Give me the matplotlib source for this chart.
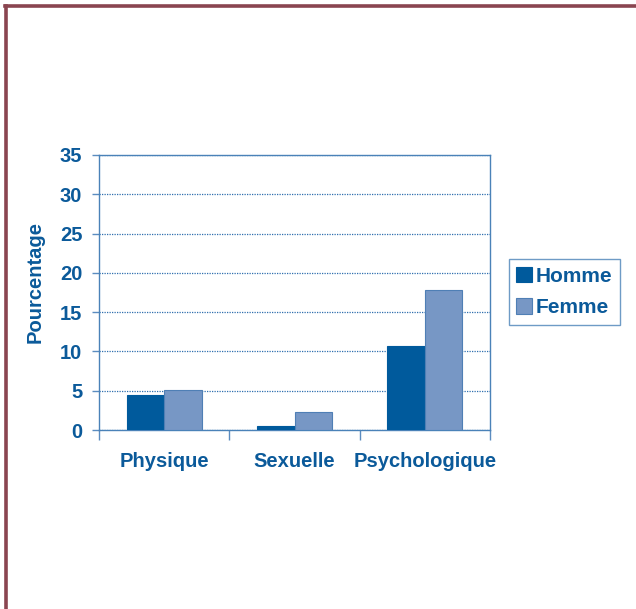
import numpy as np
import matplotlib.pyplot as plt
from matplotlib.lines import Line2D

# -------------------- Data --------------------
categories = ["Physique", "Sexuelle", "Psychologique"]
homme = [4.45, 0.5, 10.7]
femme = [5.05, 2.35, 17.8]
yticks = [0, 5, 10, 15, 20, 25, 30, 35]

blue_dark = "#005a9c"
blue_light = "#7797c5"
text_blue = "#0b5a9a"
frame_color = "#8a4550"

plt.rcParams["font.family"] = ["Liberation Sans", "DejaVu Sans"]

fig = plt.figure(figsize=(6.36, 6.09), dpi=100)
ax = fig.add_axes([0.1557, 0.2939, 0.6148, 0.4516])

x = np.arange(len(categories))
w = 0.287
ax.bar(x - w / 2, homme, width=w, color=blue_dark, edgecolor=blue_dark,
       linewidth=0.8, label="Homme", zorder=3)
ax.bar(x + w / 2, femme, width=w, color=blue_light, edgecolor="#4f7fb5",
       linewidth=0.8, label="Femme", zorder=3)

ax.set_xlim(-0.5, 2.5)
ax.set_ylim(0, 35)
ax.set_yticks(yticks)
ax.set_yticklabels([str(v) for v in yticks], fontsize=14.5, fontweight="bold",
                   color=text_blue)

# x ticks at category boundaries, labels at centres
ax.set_xticks([-0.5, 0.5, 1.5, 2.5])
ax.set_xticklabels([])
ax.set_xticks(x, minor=True)
ax.set_xticklabels(categories, minor=True, fontsize=14.5, fontweight="bold",
                   color=text_blue)
ax.tick_params(axis="x", which="major", length=7, width=1, color="#5b8cc0")
ax.tick_params(axis="x", which="minor", length=0, pad=16)
ax.tick_params(axis="y", length=5, width=1, color="#5b8cc0", pad=7)

for s in ax.spines.values():
    s.set_color("#4a82b8")
    s.set_linewidth(1.0)

ax.yaxis.grid(True, linestyle=(0, (1, 1)), color="#2f6fae", linewidth=0.9,
              zorder=0)
ax.set_axisbelow(True)

ax.set_ylabel("Pourcentage", fontsize=14.5, fontweight="bold", color=text_blue)
ax.yaxis.set_label_coords(-0.138, 0.54)

leg = ax.legend(loc="upper left", bbox_to_anchor=(1.048, 0.62), frameon=True,
                fancybox=False, fontsize=15, handlelength=0.75,
                handleheight=0.75, handletextpad=0.2, borderpad=0.35,
                labelspacing=0.6, borderaxespad=0)
leg.get_frame().set_edgecolor("#4a82b8")
leg.get_frame().set_linewidth(1.0)
for t in leg.get_texts():
    t.set_color(text_blue)
    t.set_fontweight("bold")

# maroon page frame (left and top)
fig.add_artist(Line2D([0.0095, 0.0095], [0, 0.9905], transform=fig.transFigure,
                      color=frame_color, linewidth=2.6))
fig.add_artist(Line2D([0.0075, 1.0], [0.9905, 0.9905], transform=fig.transFigure,
                      color=frame_color, linewidth=2.6))

fig.savefig("out.png", dpi=100)
